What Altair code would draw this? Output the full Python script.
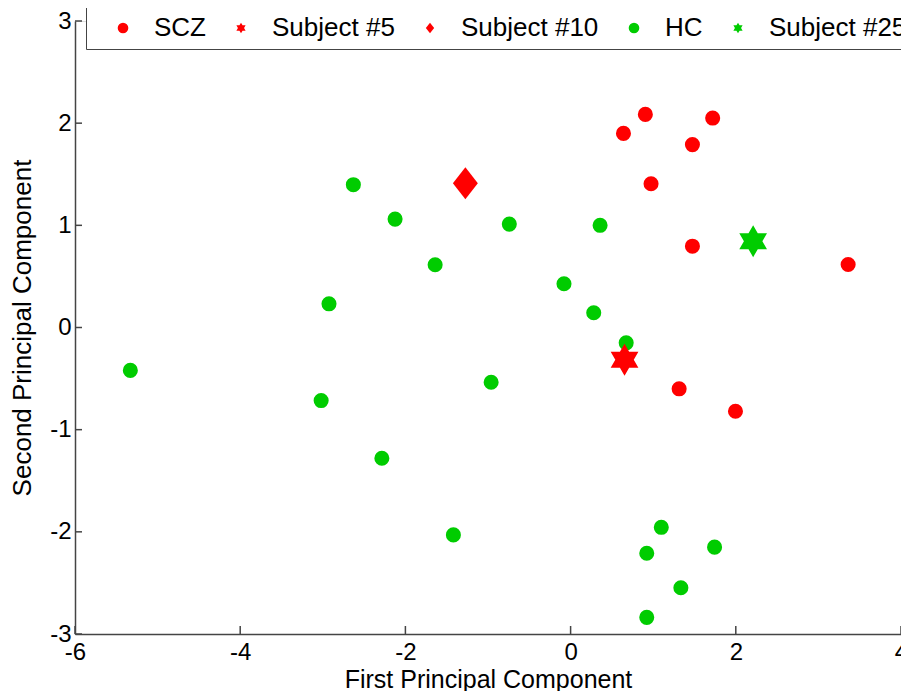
import altair as alt
import pandas as pd

FONT = "Liberation Sans"

# ---- data ----
scz_x = [0.64, 0.905, 1.72, 1.475, 0.974, 1.475, 3.36, 1.314, 1.996]
scz_y = [1.90, 2.086, 2.05, 1.79, 1.407, 0.796, 0.617, -0.60, -0.82]

hc_x = [-5.33, -3.02, -2.925, -2.63, -2.285, -2.125, -1.64, -1.419, -0.962, -0.742,
        -0.08, 0.28, 0.357, 0.673, 1.098, 0.922, 1.743, 1.335, 0.922]
hc_y = [-0.42, -0.715, 0.232, 1.398, -1.28, 1.061, 0.614, -2.03, -0.536, 1.012,
        0.428, 0.144, 1.0, -0.15, -1.956, -2.21, -2.15, -2.547, -2.837]

special_names = ["Subject #5", "Subject #10", "Subject #25"]
special_x = [0.653, -1.274, 2.21]
special_y = [-0.316, 1.413, 0.845]

groups = ["SCZ", "Subject #5", "Subject #10", "HC", "Subject #25"]
RED = "#ff0000"
GREEN = "#00cc00"
colors = [RED, RED, RED, GREEN, GREEN]

HEXAGRAM = ("M0,-1L0.2887,-0.5L0.866,-0.5L0.5774,0L0.866,0.5L0.2887,0.5L0,1"
            "L-0.2887,0.5L-0.866,0.5L-0.5774,0L-0.866,-0.5L-0.2887,-0.5Z")
DIAMOND = "M0,-1L0.78,0L0,1L-0.78,0Z"
shapes = ["circle", HEXAGRAM, DIAMOND, "circle", HEXAGRAM]

x_ticks = [-6, -4, -2, 0, 2, 4]
y_ticks = [-3, -2, -1, 0, 1, 2, 3]

# ---- tables ----
circles = pd.DataFrame({
    "x": scz_x + hc_x,
    "y": scz_y + hc_y,
    "group": ["SCZ"] * len(scz_x) + ["HC"] * len(hc_x),
})
specials = pd.DataFrame({"x": special_x, "y": special_y, "group": special_names})
xt = pd.DataFrame({"x": x_ticks})
yt = pd.DataFrame({"y": y_ticks})

W, H = 826, 613
AXIS_COLOR = "#444444"

xscale = alt.Scale(domain=[-6, 4], nice=False, zero=False)
yscale = alt.Scale(domain=[-3, 3], nice=False, zero=False)

xaxis = alt.Axis(values=x_ticks, labelExpr="'' + datum.value", ticks=False, grid=False,
                 domainColor=AXIS_COLOR, domainWidth=1.5, labelFontSize=24, labelFont=FONT,
                 labelColor="black", labelPadding=6, labelFlush=False, labelOverlap=False,
                 title="First Principal Component", titleFontSize=25, titleFont=FONT,
                 titleFontWeight="normal", titleColor="black", titlePadding=3)
yaxis = alt.Axis(values=y_ticks, labelExpr="'' + datum.value", ticks=False, grid=False,
                 domainColor=AXIS_COLOR, domainWidth=1.5, labelFontSize=24, labelFont=FONT,
                 labelColor="black", labelPadding=4, labelOverlap=False,
                 title="Second Principal Component", titleFontSize=26, titleFont=FONT,
                 titleFontWeight="normal", titleColor="black", titlePadding=14)

legend = alt.Legend(title=None, orient="none", legendX=11, legendY=-14, direction="horizontal",
                    strokeColor=AXIS_COLOR, fillColor="white", padding=8,
                    symbolSize=113, symbolStrokeWidth=0, symbolOffset=16, labelOffset=18,
                    columnPadding=6, labelFontSize=26, labelFont=FONT, labelColor="black")

color_enc = alt.Color("group:N", scale=alt.Scale(domain=groups, range=colors), legend=legend)
shape_enc = alt.Shape("group:N", scale=alt.Scale(domain=groups, range=shapes), legend=legend)

X = alt.X("x:Q", scale=xscale, axis=xaxis)
Y = alt.Y("y:Q", scale=yscale, axis=yaxis)

circle_layer = alt.Chart(circles).mark_point(filled=True, size=227, opacity=1).encode(
    x=X, y=Y, color=color_enc, shape=shape_enc)
special_layer = alt.Chart(specials).mark_point(filled=True, size=1024, opacity=1).encode(
    x=X, y=Y, color=color_enc, shape=shape_enc)

xtick_layer = alt.Chart(xt).mark_rule(color=AXIS_COLOR, strokeWidth=1.5).encode(
    x=X, y=alt.value(H - 8), y2=alt.value(H))
ytick_layer = alt.Chart(yt).mark_rule(color=AXIS_COLOR, strokeWidth=1.5).encode(
    y=Y, x=alt.value(0), x2=alt.value(7))

chart = alt.layer(xtick_layer, ytick_layer, circle_layer, special_layer).properties(
    width=W, height=H,
    autosize=alt.AutoSizeParams(type="none"),
    padding={"left": 67, "top": 13, "right": 0, "bottom": 57},
).configure_view(stroke=None).configure(background="white")

chart.save("out.html", embed_options={"renderer": "svg", "actions": False})
